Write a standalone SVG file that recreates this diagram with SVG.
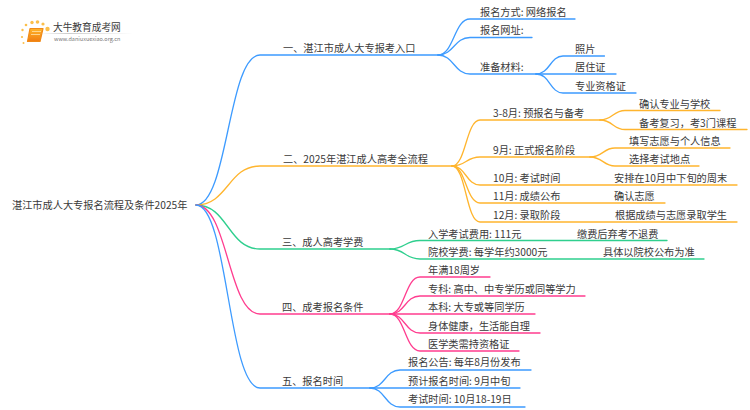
<svg xmlns="http://www.w3.org/2000/svg" width="750" height="410" viewBox="0 0 750 410">
<style>
text{font-family:"Noto Sans CJK SC","Noto Sans",sans-serif;font-size:10.2px;fill:#3a3a3a}
.c{fill:none;stroke-width:1.3;stroke-linecap:round}
.b{stroke:#3d9bff}.o{stroke:#ffb52e}.g{stroke:#2fcf8e}.p{stroke:#ff3d8f}
</style>
<defs>
<linearGradient id="rule"><stop offset="0" stop-color="#ccc" stop-opacity="0"/><stop offset=".3" stop-color="#ccc"/><stop offset="1" stop-color="#ccc" stop-opacity="0"/></linearGradient>
<linearGradient id="bookFill" x1="0" y1="0" x2="0" y2="1"><stop offset="0" stop-color="#ffb52a"/><stop offset="1" stop-color="#f07c10"/></linearGradient>
</defs>
<rect width="750" height="410" fill="#fff"/>
<g id="logo">
<g fill="#fbbf4a"><circle cx="47.500" cy="29" r="2.200"/><circle cx="32" cy="22.500" r="1.700"/><circle cx="26" cy="25" r="1.300"/><circle cx="22.500" cy="30" r="1.200"/><circle cx="22" cy="37" r="1.100"/><circle cx="23.500" cy="43" r="1"/><circle cx="37.500" cy="22" r="1.800"/><circle cx="43" cy="24" r="1.600"/></g>
<path d="M30 28.500H43L40 41.500H27.500Z" fill="url(#bookFill)" stroke="#f08a18" stroke-width="1.200" stroke-linejoin="round"/>
<path d="M32 31.500H41M31 34.500H40" stroke="#ffe2a8" stroke-width=".8" fill="none"/>
<rect x="40" y="33" width="93" height="1" fill="url(#rule)"/>
<text x="53" y="31" style="font-size:9.700px">大牛教育成考网</text>
<text x="54" y="41" style="font-size:5.500px;fill:#777">www.daniuxuexiao.org.cn</text>
</g>
<g id="connectors">
<path class="c b" d="M196 205C228 205 228 55 260 55H438"/>
<path class="c o" d="M196 205C228 205 228 166 260 166H452"/>
<path class="c g" d="M196 205C228 205 228 249 260 249H390"/>
<path class="c p" d="M196 205C228 205 228 314 260 314H390"/>
<path class="c b" d="M196 205C228 205 228 388 260 388H370"/>
<path class="c b" d="M438 55C454 55 454 19 470 19H575"/>
<path class="c b" d="M438 55C454 55 454 37.500 470 37.500H532"/>
<path class="c b" d="M438 55C454 55 454 74 470 74H536"/>
<path class="c b" d="M536 74C550 74 550 56 563 56H604.500"/>
<path class="c b" d="M536 74H616"/>
<path class="c b" d="M536 74C550 74 550 93 563 93H636"/>
<path class="c o" d="M452 166C466 166 466 120 480 120H600"/>
<path class="c o" d="M452 166C466 166 466 157 480 157H590"/>
<path class="c o" d="M452 166C466 166 466 185 480 185H737"/>
<path class="c o" d="M452 166C466 166 466 203 480 203H665"/>
<path class="c o" d="M452 166C466 166 466 222 480 222H737"/>
<path class="c o" d="M600 120C613 120 613 110.500 625 110.500H720"/>
<path class="c o" d="M600 120C613 120 613 129.500 625 129.500H747"/>
<path class="c o" d="M590 157C603 157 603 148 615 148H730"/>
<path class="c o" d="M590 157C603 157 603 166 615 166H699"/>
<path class="c g" d="M390 249C405 249 405 240.500 420 240.500H667"/>
<path class="c g" d="M390 249C405 249 405 259 420 259H704"/>
<path class="c p" d="M390 314C405 314 405 277 420 277H490"/>
<path class="c p" d="M390 314C405 314 405 296 420 296H585"/>
<path class="c p" d="M390 314H535"/>
<path class="c p" d="M390 314C405 314 405 333 420 333H540"/>
<path class="c p" d="M390 314C405 314 405 351 420 351H519"/>
<path class="c b" d="M370 388C385 388 385 370 400 370H531"/>
<path class="c b" d="M370 388H520"/>
<path class="c b" d="M370 388C385 388 385 407 400 407H525"/>
</g>
<g id="root"><text x="12" y="209">湛江市成人大专报名流程及条件2025年</text></g>
<g id="n1"><text x="283" y="52">一、湛江市成人大专报考入口</text></g>
<g id="n1-1"><text x="480" y="16">报名方式: 网络报名</text></g>
<g id="n1-2"><text x="480" y="34">报名网址:</text></g>
<g id="n1-3"><text x="480" y="71">准备材料:</text></g>
<g id="n1-3-1"><text x="575" y="53">照片</text></g>
<g id="n1-3-2"><text x="575" y="71">居住证</text></g>
<g id="n1-3-3"><text x="575" y="90">专业资格证</text></g>
<g id="n2"><text x="283" y="163">二、2025年湛江成人高考全流程</text></g>
<g id="n2-1"><text x="493" y="117">3-8月: 预报名与备考</text></g>
<g id="n2-1-1"><text x="639" y="107.500">确认专业与学校</text></g>
<g id="n2-1-2"><text x="639" y="126.500">备考复习，考3门课程</text></g>
<g id="n2-2"><text x="493" y="154">9月: 正式报名阶段</text></g>
<g id="n2-2-1"><text x="629" y="145">填写志愿与个人信息</text></g>
<g id="n2-2-2"><text x="629" y="163">选择考试地点</text></g>
<g id="n2-3"><text x="493" y="182">10月: 考试时间</text></g>
<g id="n2-3-1"><text x="614" y="182">安排在10月中下旬的周末</text></g>
<g id="n2-4"><text x="493" y="200">11月: 成绩公布</text></g>
<g id="n2-4-1"><text x="614" y="200">确认志愿</text></g>
<g id="n2-5"><text x="493" y="219">12月: 录取阶段</text></g>
<g id="n2-5-1"><text x="615" y="219">根据成绩与志愿录取学生</text></g>
<g id="n3"><text x="282" y="246">三、成人高考学费</text></g>
<g id="n3-1"><text x="428" y="237.500">入学考试费用: 111元</text></g>
<g id="n3-1-1"><text x="577" y="237.500">缴费后弃考不退费</text></g>
<g id="n3-2"><text x="428" y="256">院校学费: 每学年约3000元</text></g>
<g id="n3-2-1"><text x="603" y="256">具体以院校公布为准</text></g>
<g id="n4"><text x="282" y="311">四、成考报名条件</text></g>
<g id="n4-1"><text x="428" y="274">年满18周岁</text></g>
<g id="n4-2"><text x="428" y="293">专科: 高中、中专学历或同等学力</text></g>
<g id="n4-3"><text x="428" y="311">本科: 大专或等同学历</text></g>
<g id="n4-4"><text x="428" y="330">身体健康，生活能自理</text></g>
<g id="n4-5"><text x="428" y="348">医学类需持资格证</text></g>
<g id="n5"><text x="282" y="385">五、报名时间</text></g>
<g id="n5-1"><text x="408" y="366">报名公告: 每年8月份发布</text></g>
<g id="n5-2"><text x="408" y="385">预计报名时间: 9月中旬</text></g>
<g id="n5-3"><text x="408" y="403">考试时间: 10月18-19日</text></g>
</svg>
